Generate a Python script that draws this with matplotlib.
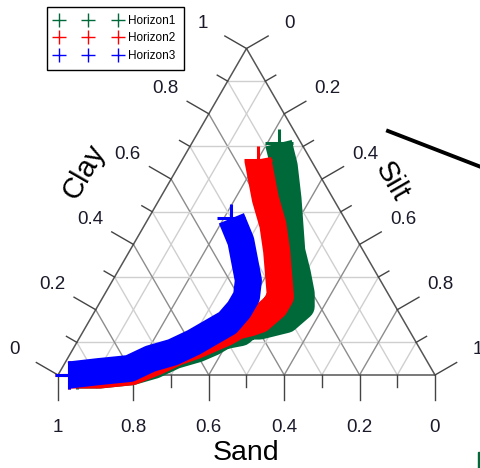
import numpy as np
import matplotlib.pyplot as plt
from matplotlib.lines import Line2D
from matplotlib.patches import Rectangle

plt.rcParams['font.family'] = ['Liberation Sans', 'DejaVu Sans']

# ---- data (fractions) ----
h1_sand = [0.06, 0.08, 0.12, 0.19, 0.21, 0.23, 0.25, 0.28, 0.31, 0.35, 0.39, 0.42,
           0.45, 0.50, 0.54, 0.59, 0.66, 0.73, 0.80, 0.89, 0.95]
h1_clay = [0.71, 0.64, 0.54, 0.38, 0.31, 0.25, 0.21, 0.19, 0.17, 0.16, 0.15, 0.15,
           0.13, 0.12, 0.10, 0.08, 0.06, 0.03, 0.01, 0.00, 0.00]

h2_sand = [0.14, 0.16, 0.18, 0.20, 0.23, 0.26, 0.29, 0.32, 0.35, 0.38, 0.41, 0.45,
           0.49, 0.54, 0.59, 0.65, 0.72, 0.80, 0.89, 0.97]
h2_clay = [0.66, 0.60, 0.54, 0.46, 0.38, 0.31, 0.24, 0.21, 0.19, 0.17, 0.16, 0.15,
           0.13, 0.11, 0.09, 0.07, 0.04, 0.01, 0.00, 0.00]

h3_sand = [0.30, 0.31, 0.33, 0.35, 0.38, 0.42, 0.47, 0.53, 0.59, 0.66, 0.73, 0.80,
           0.89, 0.97]
h3_clay = [0.48, 0.41, 0.35, 0.29, 0.24, 0.20, 0.16, 0.13, 0.10, 0.07, 0.05, 0.02,
           0.01, 0.00]

horizons = ["Horizon1", "Horizon2", "Horizon3"]
colors = ["#00693a", "#ff0000", "#0000ff"]
ticks = [0, 0.2, 0.4, 0.6, 0.8, 1]
tick_labels = ["0", "0.2", "0.4", "0.6", "0.8", "1"]

S3 = np.sqrt(3) / 2
PX = 377.0  # pixels per unit side


def tern(sand, clay):
    sand = np.asarray(sand, float)
    clay = np.asarray(clay, float)
    return 1 - sand - clay / 2, clay * S3


fig = plt.figure(figsize=(4.81, 4.68), dpi=100)
ax = fig.add_axes([0, 0, 1, 1])
ax.set_xlim(-58 / PX, 423 / PX)
ax.set_ylim(-93 / PX, 375 / PX)
ax.axis('off')

# ---- grid ----
for k in range(1, 10):
    v = k / 10
    col = '#8c8c8c' if k % 2 == 0 else '#cfcfcf'
    x, y = tern([v, v], [0, 1 - v])          # constant sand
    ax.plot(x, y, color=col, lw=1, zorder=1)
    x, y = tern([1 - v, 0], [0, 1 - v])      # constant silt
    ax.plot(x, y, color=col, lw=1, zorder=1)
    if k % 2 == 1:                           # constant clay
        x, y = tern([1 - v, 0], [v, v])
        ax.plot(x, y, color='#cfcfcf', lw=1, zorder=1)

# ---- frame ----
x, y = tern([1, 0, 0, 1], [0, 0, 1, 0])
ax.plot(x, y, color='#555555', lw=1.1, zorder=2)

# ---- ticks and tick labels ----
left_dir = np.array([-0.866, 0.5])
right_dir = np.array([0.866, 0.5])
down_dir = np.array([0.0, -1.0])
tcol = '#444444'
lab_col = '#1a1a2a'
for k in range(11):
    v = k / 10
    ln = (25 if k % 2 == 0 else 12) / PX
    for p, d in [(tern(1 - v, v), left_dir), (tern(0, 1 - v), right_dir), (tern(v, 0), down_dir)]:
        p = np.array(p)
        q = p + ln * d
        ax.plot([p[0], q[0]], [p[1], q[1]], color=tcol, lw=1, zorder=2)

for v, lab in zip(ticks, tick_labels):
    p = np.array(tern(1 - v, v)) + 50 / PX * left_dir
    ax.text(p[0], p[1], lab, ha='center', va='center', fontsize=13.5, color=lab_col)
    p = np.array(tern(0, 1 - v)) + 50 / PX * right_dir
    ax.text(p[0], p[1], lab, ha='center', va='center', fontsize=13.5, color=lab_col)
    p = np.array(tern(v, 0)) + 52 / PX * down_dir
    ax.text(p[0], p[1], lab, ha='center', va='center', fontsize=13.5, color=lab_col)

ax.text((246 - 58) / PX, (375 - 453) / PX, "Sand", ha='center', va='center', fontsize=20.5)
ax.text((84 - 58) / PX, (375 - 172) / PX, "Clay", ha='center', va='center', fontsize=21,
        rotation=60, rotation_mode='anchor')
ax.text((392 - 58) / PX, (375 - 182) / PX, "Silt", ha='center', va='center', fontsize=21,
        rotation=-60, rotation_mode='anchor')

# ---- horizon bands ----
series = [(h1_sand, h1_clay), (h2_sand, h2_clay), (h3_sand, h3_clay)]
for (s, c), col in zip(series, colors):
    x, y = tern(s, c)
    ax.plot(x, y, color=col, lw=19.5, solid_capstyle='butt', solid_joinstyle='round',
            marker='+', markevery=[0, len(x) - 1], markersize=20, mew=2.2, zorder=3)

# ---- legend ----
handles = [Line2D([], [], color=c, marker='+', linestyle='none', markersize=9.5, mew=1)
           for c in colors]
fig.legend(handles, horizons, loc='upper left', bbox_to_anchor=(47 / 481, 1 - 7 / 468),
           bbox_transform=fig.transFigure, borderaxespad=0, numpoints=3, handlelength=5.64,
           handletextpad=0.55, fontsize=8.5, labelspacing=0.45, borderpad=0.68,
           fancybox=False, edgecolor='black', framealpha=1)

# ---- stray marks at the picture edge ----
fig.add_artist(Line2D([388 / 481, 1.0], [1 - 131 / 468, 1 - 167 / 468],
                      color='black', lw=2.8, transform=fig.transFigure))
fig.add_artist(Rectangle((478 / 481, 0), 3 / 481, 16 / 468, color='#00693a',
                         transform=fig.transFigure))

fig.savefig("out.png", dpi=100)
